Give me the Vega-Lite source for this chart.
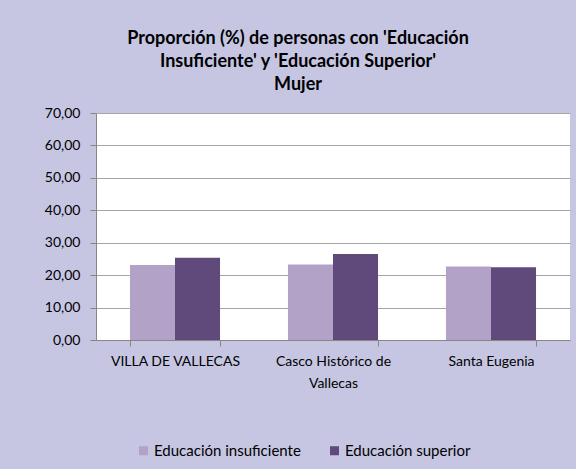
{
  "$schema": "https://vega.github.io/schema/vega-lite/v6.json",
  "width": 474,
  "height": 227,
  "autosize": "none",
  "padding": {"left": 96, "top": 113, "right": 6, "bottom": 129},
  "background": "#c6c6e3",
  "config": {
    "font": "Lato",
    "locale": {"number": {"decimal": ",", "thousands": ".", "grouping": [3], "currency": ["", " €"]}},
    "view": {"fill": "white", "stroke": null}
  },
  "title": {
    "text": ["Proporción (%) de personas con 'Educación", "Insuficiente' y 'Educación Superior'", "Mujer"],
    "font": "Lato",
    "fontSize": 18,
    "fontWeight": "bold",
    "color": "black",
    "lineHeight": 23,
    "anchor": "middle",
    "dx": -35,
    "offset": 12
  },
  "data": {
    "values": [
      {"barrio": "VILLA DE VALLECAS", "serie": "Educación insuficiente", "valor": 23.1},
      {"barrio": "VILLA DE VALLECAS", "serie": "Educación superior", "valor": 25.4},
      {"barrio": "Casco Histórico de Vallecas", "serie": "Educación insuficiente", "valor": 23.3},
      {"barrio": "Casco Histórico de Vallecas", "serie": "Educación superior", "valor": 26.5},
      {"barrio": "Santa Eugenia", "serie": "Educación insuficiente", "valor": 22.7},
      {"barrio": "Santa Eugenia", "serie": "Educación superior", "valor": 22.4}
    ]
  },
  "mark": {"type": "bar"},
  "encoding": {
    "x": {
      "field": "barrio",
      "type": "nominal",
      "sort": null,
      "scale": {"paddingInner": 0.43, "paddingOuter": 0.215},
      "axis": {
        "title": null,
        "labelAngle": 0,
        "labelFontSize": 14,
        "labelColor": "black",
        "labelPadding": 8,
        "labelLineHeight": 22,
        "labelExpr": "datum.label == 'Casco Histórico de Vallecas' ? ['Casco Histórico de', 'Vallecas'] : datum.label",
        "tickBand": "extent",
        "tickSize": 6,
        "tickColor": "#868686",
        "domainColor": "#868686",
        "grid": false
      }
    },
    "xOffset": {"field": "serie", "type": "nominal"},
    "y": {
      "field": "valor",
      "type": "quantitative",
      "scale": {"domain": [0, 70]},
      "axis": {
        "title": null,
        "values": [0, 10, 20, 30, 40, 50, 60, 70],
        "format": ".2f",
        "labelFontSize": 14,
        "labelColor": "black",
        "labelPadding": 10,
        "tickSize": 6,
        "tickColor": "#868686",
        "domainColor": "#868686",
        "gridColor": "#a6a6a6"
      }
    },
    "color": {
      "field": "serie",
      "type": "nominal",
      "scale": {"domain": ["Educación insuficiente", "Educación superior"], "range": ["#b3a2c7", "#604a7b"]},
      "legend": {
        "title": null,
        "orient": "none",
        "direction": "horizontal",
        "legendX": 40,
        "legendY": 330,
        "symbolType": "square",
        "symbolSize": 81,
        "symbolStrokeWidth": 0,
        "labelFontSize": 15,
        "labelColor": "black",
        "labelOffset": 3,
        "columnPadding": 26
      }
    }
  }
}
